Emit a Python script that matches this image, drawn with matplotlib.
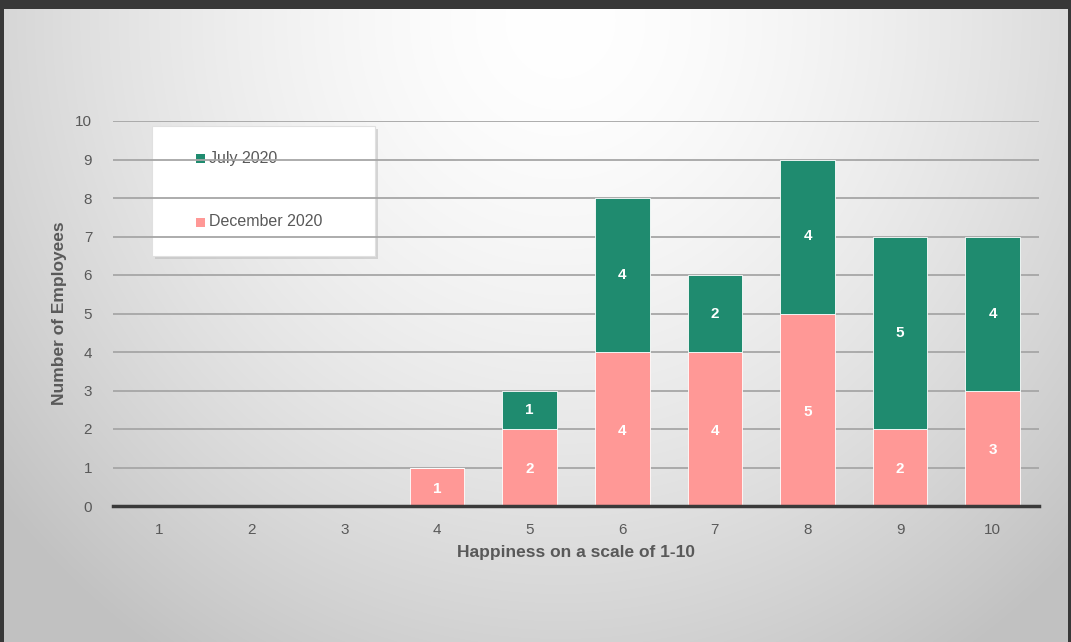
import numpy as np
import matplotlib.pyplot as plt
from matplotlib.patches import Rectangle

# Happiness survey results
scores = [1, 2, 3, 4, 5, 6, 7, 8, 9, 10]
december_2020 = [0, 0, 0, 1, 2, 4, 4, 5, 2, 3]
july_2020 = [0, 0, 0, 0, 1, 4, 2, 4, 5, 4]
y_ticks = [0, 1, 2, 3, 4, 5, 6, 7, 8, 9, 10]

PINK = "#ff9896"
GREEN = "#1f8b6f"
TEXT = "#595959"

plt.rcParams["font.family"] = ["Liberation Sans", "DejaVu Sans"]

W, H = 1071, 642
fig = plt.figure(figsize=(W / 100, H / 100), dpi=100)

# Soft radial background with dark frame
bg = fig.add_axes([0, 0, 1, 1], zorder=-10)
yy, xx = np.mgrid[0:H, 0:W]
r = np.sqrt(((xx - 560) / 720.0) ** 2 + ((yy - 20) / 760.0) ** 2)
val = 1.0 - 0.24 * np.clip(r, 0, 1) ** 1.6
img = np.dstack([val, val, val])
img[:9, :, :] = 0.22
img[:, :4, :] = 0.22
img[:, -3:, :] = 0.22
bg.imshow(img, extent=[0, W, H, 0], aspect="auto", interpolation="bilinear")
bg.set_xlim(0, W)
bg.set_ylim(H, 0)
bg.axis("off")

# Plot area
x0, x1 = 113, 1039
ybot, ytop = 506, 121
ax = fig.add_axes([x0 / W, 1 - ybot / H, (x1 - x0) / W, (ybot - ytop) / H])
ax.patch.set_alpha(0)

x = np.arange(len(scores))
bw = 0.59
ax.bar(x, december_2020, bw, color=PINK, zorder=3, label="December 2020",
       edgecolor="white", linewidth=0.6)
ax.bar(x, july_2020, bw, bottom=december_2020, color=GREEN, zorder=3,
       label="July 2020", edgecolor="white", linewidth=0.6)

for i in range(len(scores)):
    d, j = december_2020[i], july_2020[i]
    if d > 0:
        ax.text(x[i], d / 2 - 0.05, str(d), ha="center", va="center",
                color="white", fontsize=11, fontweight="bold", zorder=4)
    if j > 0:
        ax.text(x[i], d + j / 2, str(j), ha="center", va="center",
                color="white", fontsize=11, fontweight="bold", zorder=4)

ax.set_xlim(-0.5, len(scores) - 0.5)
ax.set_ylim(0, 10)
ax.set_yticks(y_ticks)
ax.set_xticks(x)
ax.set_xticklabels([str(s) for s in scores])
ax.grid(axis="y", color="#a6a6a6", linewidth=1.3, zorder=0)
ax.set_axisbelow(True)
for s in ["top", "right", "left"]:
    ax.spines[s].set_visible(False)
ax.spines["bottom"].set_color("#3a3a3a")
ax.spines["bottom"].set_linewidth(2.5)
ax.spines["bottom"].set_zorder(5)
ax.tick_params(axis="both", length=0, labelsize=11, labelcolor=TEXT)
ax.tick_params(axis="x", pad=12)
ax.tick_params(axis="y", pad=15)

ax.set_xlabel("Happiness on a scale of 1-10", fontsize=12.5, fontweight="bold",
              color=TEXT, labelpad=6)
ax.set_ylabel("Number of Employees", fontsize=12.5, fontweight="bold",
              color=TEXT, labelpad=6)

# Legend box with shadow
lx, ly, lw, lh = 152, 126, 223, 130
shadow = Rectangle((lx + 3, ly + 3), lw, lh, transform=bg.transData,
                   facecolor="#b5b5b5", edgecolor="none", zorder=1, alpha=0.5)
box = Rectangle((lx, ly), lw, lh, transform=bg.transData,
                facecolor="white", edgecolor="#e0e0e0", linewidth=0.8, zorder=2)
bg.add_patch(shadow)
bg.add_patch(box)
for (cy, col, lab) in [(158, GREEN, "July 2020"), (222, PINK, "December 2020")]:
    bg.add_patch(Rectangle((196, cy - 4.5), 9, 9, facecolor=col,
                           edgecolor="none", zorder=3))
    bg.text(209, cy, lab, ha="left", va="center", fontsize=11.5,
            color=TEXT, zorder=3)

fig.savefig("out.png", dpi=100)
